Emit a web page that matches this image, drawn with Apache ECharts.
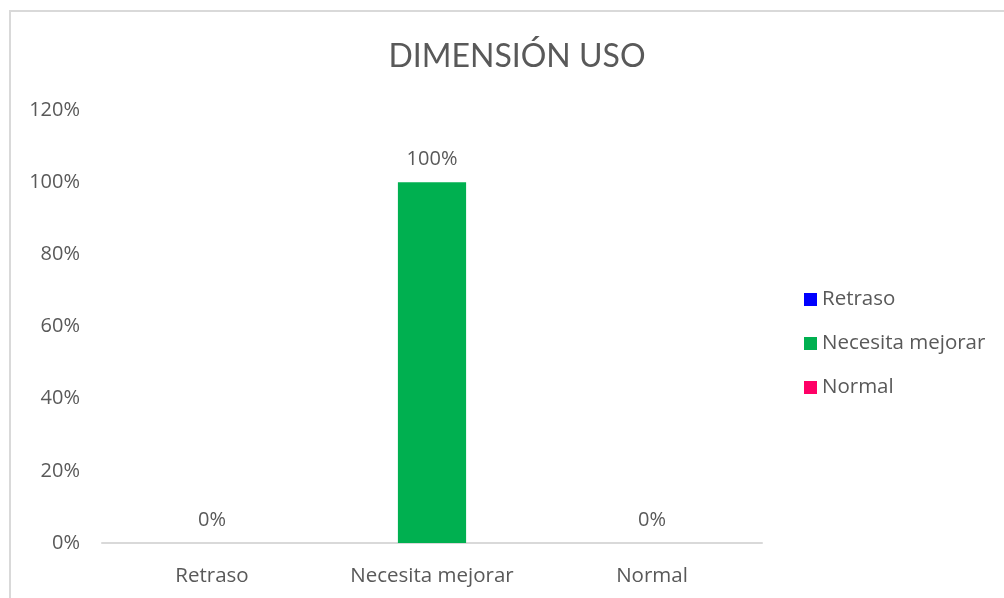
<!DOCTYPE html>
<html>
<head>
<meta charset="utf-8">
<script src="https://cdn.jsdelivr.net/npm/echarts@6/dist/echarts.min.js"></script>
<style>
  html, body { margin: 0; padding: 0; background: #fff; }
  #chart { width: 1004px; height: 598px; }
</style>
</head>
<body>
<div id="chart"></div>
<script>
const categories = ['Retraso', 'Necesita mejorar', 'Normal'];
const values = [0, 100, 0];
const colors = ['#0000FF', '#00B050', '#FF0066'];
const yTicks = [0, 20, 40, 60, 80, 100, 120];

const textColor = '#595959';
const fontFamily = '"Open Sans", Lato, sans-serif';

const chart = echarts.init(document.getElementById('chart'));

// one series per category, stacked so each bar sits centred on its category
const series = categories.map((name, i) => ({
  name,
  type: 'bar',
  stack: 'all',
  barWidth: '31%',
  itemStyle: { color: colors[i] },
  label: {
    show: true,
    position: 'top',
    distance: 13,
    color: textColor,
    fontSize: 20,
    fontFamily,
    formatter: p => p.value + '%'
  },
  data: categories.map((c, j) => (j === i ? values[j] : '-'))
}));

chart.setOption({
  animation: false,
  title: {
    text: 'DIMENSIÓN USO',
    left: 512,
    top: 36,
    textAlign: 'center',
    textStyle: { color: textColor, fontSize: 32, fontWeight: 'normal', fontFamily: 'Lato, sans-serif' }
  },
  graphic: [{
    type: 'rect',
    shape: { x: 10, y: 11, width: 1100, height: 700 },
    style: { fill: 'none', stroke: '#d9d9d9', lineWidth: 2 },
    silent: true
  }],
  legend: {
    orient: 'vertical',
    left: 799,
    top: 284,
    itemWidth: 13,
    itemHeight: 13,
    itemGap: 23,
    icon: 'rect',
    textStyle: { color: textColor, fontSize: 20.5, fontFamily, lineHeight: 21 },
    data: categories
  },
  grid: { left: 102, right: 242, top: 110, bottom: 55 },
  xAxis: {
    type: 'category',
    data: categories,
    axisLine: { lineStyle: { color: '#d9d9d9', width: 2 } },
    axisTick: { show: false },
    axisLabel: { color: textColor, fontSize: 20.5, fontFamily, margin: 23 }
  },
  yAxis: {
    type: 'value',
    min: yTicks[0],
    max: yTicks[yTicks.length - 1],
    interval: 20,
    axisLine: { show: false },
    axisTick: { show: false },
    splitLine: { show: false },
    axisLabel: { color: textColor, fontSize: 20, fontFamily, margin: 22, formatter: v => v + '%' }
  },
  series
});
</script>
</body>
</html>
